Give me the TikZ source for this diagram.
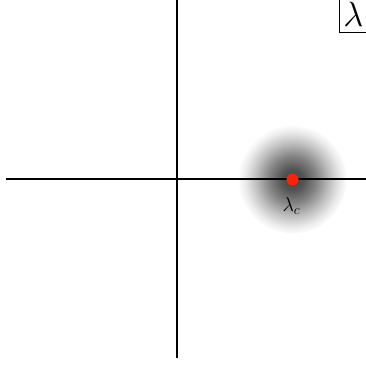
\documentclass[tikz,border=0pt]{standalone}
\usepackage{fix-cm}
\definecolor{dotred}{RGB}{250,35,10}
\pgfdeclareradialshading{blob}{\pgfpoint{0bp}{0bp}}{color(0bp)=(black!74); color(5bp)=(black!67); color(11bp)=(black!48); color(17bp)=(black!25); color(22bp)=(black!8); color(25.5bp)=(white); color(50bp)=(white)}
\tikzset{
  axis/.style={line width=2pt, line cap=butt},
  labelbox/.style={draw, line width=1.2pt, inner xsep=4pt, inner ysep=6pt, anchor=south west},
  reddot/.style={circle, fill=dotred, minimum size=12pt, inner sep=0pt}
}
\begin{document}
\begin{tikzpicture}[x=1pt,y=-1pt]
\useasboundingbox (0,0) rectangle (366,365);
\shade[shading=blob] (292.5,179.5) circle (54);
\coordinate (xl) at (6,178.5);
\coordinate (xr) at (370,178.5);
\coordinate (yt) at (176.7,-4);
\coordinate (yb) at (176.7,358);
\draw[axis] (xl) -- (xr);
\draw[axis] (yt) -- (yb);
\node[reddot] (dot) at (292.5,179.5) {};
\node[anchor=base west, inner sep=0pt] (lc) at (282.3,211.5) {\fontsize{20}{20}\selectfont $\lambda_c$};
\node[labelbox] (lam) at (338.7,33) {\fontsize{35}{35}\selectfont $\lambda$};
\end{tikzpicture}
\end{document}
